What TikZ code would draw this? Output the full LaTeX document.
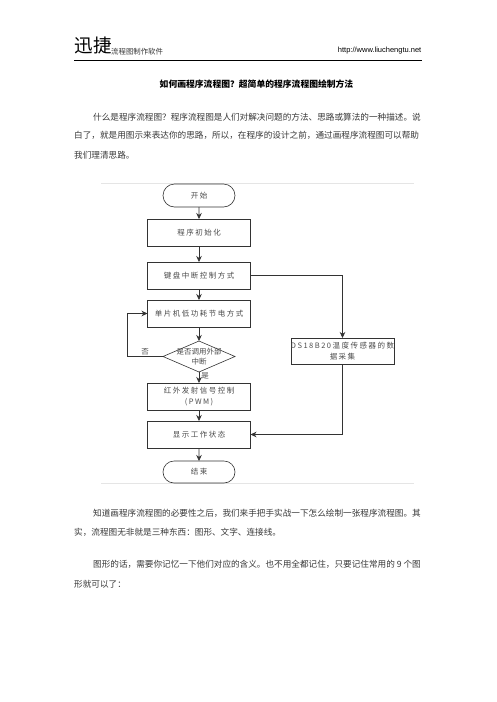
\documentclass[tikz,border=0pt]{standalone}
\usepackage{fontspec}
\usetikzlibrary{arrows.meta,shapes.geometric,shapes.misc}
\newfontfamily\cjk{Noto Sans CJK SC}
\newfontfamily\flowfont[LetterSpace=20]{Noto Sans CJK SC}
\setsansfont{Liberation Sans}
\newcommand\zhcomma{\char"FF0C\relax}
\newcommand\zhask{\char"FF1F\relax}
\newcommand\zhcolon{\char"FF1A\relax}
\definecolor{bodyink}{gray}{0.22}
\definecolor{flowink}{gray}{0.3}
\definecolor{edgeink}{gray}{0.2}
\definecolor{faint}{gray}{0.9}
\tikzset{
  x=1pt,y=-1pt,
  bodyline/.style={anchor=west,inner sep=0pt,font=\cjk\fontsize{8.62}{10}\selectfont,text=bodyink},
  boxbase/.style={draw=edgeink,line width=0.6pt,inner sep=0pt,outer sep=0pt,text=flowink,align=center,font=\flowfont\fontsize{7.5}{10.5}\selectfont},
  procbox/.style={boxbase,rectangle,minimum width=103pt,minimum height=27pt},
  termbox/.style={boxbase,rounded rectangle,minimum width=72pt,minimum height=23pt},
  decbox/.style={boxbase,diamond,aspect=2.3,minimum width=72pt,minimum height=31pt,font=\cjk\fontsize{7.5}{8}\selectfont},
  flowarrow/.style={draw=edgeink,line width=0.6pt,-{Stealth[length=6pt,width=5.5pt]}},
  edgelabel/.style={inner sep=0pt,text=flowink,font=\cjk\fontsize{7.5}{9}\selectfont},
}
\begin{document}
\begin{tikzpicture}
\path[use as bounding box,fill=white] (0,0) rectangle (496,702);
% header
\node[anchor=west,inner sep=0pt,font=\cjk\fontsize{18.5}{20}\selectfont,text=black] (logo) at (74.5,46) {迅捷};
\node[anchor=west,inner sep=0pt,font=\cjk\fontsize{7.4}{9}\selectfont,text=bodyink] (sub) at (111,51.5) {流程图制作软件};
\node[anchor=east,inner sep=0pt,font=\sffamily\fontsize{7.5}{9}\selectfont,text=black] (url) at (421.5,51) {http://www.liuchengtu.net};
\draw[black,line width=0.9pt] (74,60.3) -- (422,60.3);
% title
\node[inner sep=0pt,font=\cjk\bfseries\fontsize{8.8}{10}\selectfont,text=black] (title) at (256.5,84) {如何画程序流程图\zhask 超简单的程序流程图绘制方法};
% intro
\node[bodyline] (p1a) at (93,117) {什么是程序流程图\zhask 程序流程图是人们对解决问题的方法、思路或算法的一种描述。说};
\node[bodyline] (p1b) at (74,135.5) {白了\zhcomma 就是用图示来表达你的思路\zhcomma 所以\zhcomma 在程序的设计之前\zhcomma 通过画程序流程图可以帮助};
\node[bodyline] (p1c) at (74,155.5) {我们理清思路。};
% figure edges
\draw[faint,line width=1pt] (101,183) -- (414,183);
\draw[faint,line width=1pt] (101,483.5) -- (414,483.5);
% flow nodes
\node[termbox] (start) at (199,195.5) {开始};
\node[procbox] (init) at (199,232.5) {程序初始化};
\node[procbox] (kb) at (199,275.5) {键盘中断控制方式};
\node[procbox] (mcu) at (199,313.5) {单片机低功耗节电方式};
\node[decbox] (dec) at (199,356.5) {\makebox[0pt]{\raisebox{-7.5pt}[0pt][0pt]{\shortstack{是否调用外部\\中断}}}};
\node[procbox] (ir) at (199,396.5) {红外发射信号控制\\(PWM)};
\node[procbox] (disp) at (199,434.5) {显示工作状态};
\node[termbox,minimum height=22pt] (stop) at (199,472) {结束};
\node[procbox,minimum height=26pt] (ds) at (342.5,351) {DS18B20温度传感器的数\\据采集};
\coordinate (loopc) at (127.5,313.5);
% connectors
\draw[flowarrow] (start) -- (init);
\draw[flowarrow] (init) -- (kb);
\draw[flowarrow] (kb) -- (mcu);
\draw[flowarrow] (mcu) -- (dec);
\draw[flowarrow] (dec) -- (ir);
\draw[flowarrow] (ir) -- (disp);
\draw[flowarrow] (disp) -- (stop);
\draw[flowarrow] (kb.east) -| (ds.north);
\draw[flowarrow] (ds.south) |- (disp.east);
\draw[flowarrow] (dec.west) -| (loopc) -- (mcu.west);
\node[edgelabel] (no) at (145,352) {否};
\node[edgelabel] (yes) at (205,376) {是};
% lower text
\node[bodyline] (p2a) at (93,513) {知道画程序流程图的必要性之后\zhcomma 我们来手把手实战一下怎么绘制一张程序流程图。其};
\node[bodyline] (p2b) at (74,532) {实\zhcomma 流程图无非就是三种东西\zhcolon 图形、文字、连接线。};
\node[bodyline] (p3a) at (93,564) {图形的话\zhcomma 需要你记忆一下他们对应的含义。也不用全都记住\zhcomma 只要记住常用的 9 个图};
\node[bodyline] (p3b) at (74,584) {形就可以了\zhcolon};
\end{tikzpicture}
\end{document}
